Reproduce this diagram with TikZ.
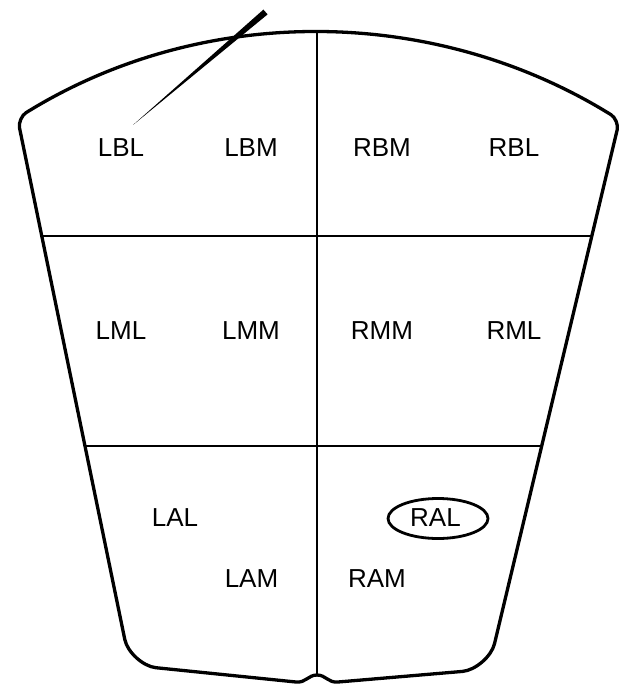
\documentclass[tikz,border=0pt]{standalone}
\usepackage{fontspec}
\setmainfont{Liberation Sans}
\usetikzlibrary{shapes.geometric}
\begin{document}
\begin{tikzpicture}[x=1pt,y=-1pt,
  outline/.style={line width=3.3pt, line join=round},
  divider/.style={line width=2pt},
  lab/.style={font=\fontsize{26}{30}\selectfont, anchor=base, inner sep=0pt},
  ring/.style={draw, ellipse, line width=2.8pt, minimum width=100pt, minimum height=40pt, inner sep=0pt}]
\useasboundingbox (0,0) rectangle (623,684);
% outline
\draw[outline] (19.5,127.8) .. controls (18.5,122.9) and (21.75,115.3) .. (26,112.7)
  .. controls (202.8,3.1) and (434.2,5.1) .. (611,114.7)
  .. controls (615.25,117.3) and (618.4,124.8) .. (617.2,129.7)
  -- (494.5,643.7)
  .. controls (491.5,656.3) and (475.5,670.2) .. (462.6,671.4)
  -- (338,682)
  .. controls (328,683) and (326,675) .. (317,675)
  .. controls (308,675) and (306,683) .. (296,682)
  -- (155.9,667.7)
  .. controls (143,666.3) and (127.4,652.2) .. (124.8,639.5)
  -- cycle;
% dividers
\coordinate (t) at (317,31.5);
\coordinate (b) at (317,675);
\coordinate (h1l) at (41.9,236);
\coordinate (h1r) at (591.8,236);
\coordinate (h2l) at (85.1,446);
\coordinate (h2r) at (541.5,446);
\draw[divider] (t) -- (b);
\draw[divider] (h1l) -- (h1r);
\draw[divider] (h2l) -- (h2r);
% needle
\fill (133,125) -- (263.4,9.6) -- (267.6,14.4) -- cycle;
% labels
\node[lab] (LBL) at (121,157) {LBL};
\node[lab] (LBM) at (251,157) {LBM};
\node[lab] (RBM) at (382,157) {RBM};
\node[lab] (RBL) at (514,157) {RBL};
\node[lab] (LML) at (121,339.5) {LML};
\node[lab] (LMM) at (251,339.5) {LMM};
\node[lab] (RMM) at (382,339.5) {RMM};
\node[lab] (RML) at (514,339.5) {RML};
\node[lab] (LAL) at (175,526.5) {LAL};
\node[lab] (LAM) at (251.5,587) {LAM};
\node[lab] (RAM) at (377,587) {RAM};
\node[ring] (RALring) at (438,518.5) {};
\node[lab] (RAL) at (435.5,526.5) {RAL};
\end{tikzpicture}
\end{document}
